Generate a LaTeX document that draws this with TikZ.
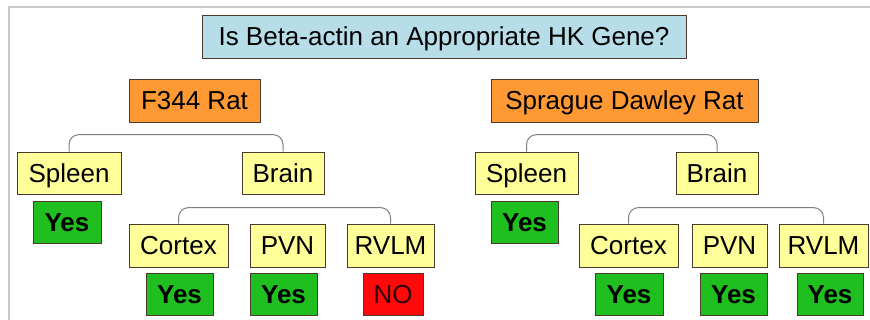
\documentclass[tikz,border=0pt]{standalone}
\usepackage{fontspec}
\setmainfont{Liberation Sans}
\definecolor{tblue}{HTML}{B7DDE8}
\definecolor{torange}{HTML}{FF9933}
\definecolor{tyellow}{HTML}{FFFF99}
\definecolor{tgreen}{HTML}{1FBF1F}
\definecolor{tred}{HTML}{FF0A0A}
\definecolor{tedge}{HTML}{4A3A30}
\definecolor{tframe}{HTML}{C8C8C8}
\definecolor{tbrk}{HTML}{7F7F7F}
\begin{document}
\begin{tikzpicture}[x=1pt,y=-1pt,
  box/.style={draw=tedge,line width=0.8pt,inner sep=0pt,minimum height=43,
    text height=18.6pt,text depth=0pt,
    font=\fontsize{26}{30}\selectfont,text=black},
  titlebox/.style={box,fill=tblue},
  ratbox/.style={box,fill=torange},
  tissue/.style={box,fill=tyellow},
  yesbox/.style={box,fill=tgreen,minimum height=42,font=\fontsize{26}{30}\selectfont\bfseries},
  nobox/.style={box,fill=tred,minimum height=42,text=black!80!red},
  brk/.style={draw=tbrk,line width=1pt,rounded corners=10pt}]
\useasboundingbox (0,0) rectangle (870,320);
\fill[white] (0,0) rectangle (870,320);
\draw[tframe,line width=1.5pt] (9,320) -- (9,7) -- (870,7);

\node[titlebox,minimum width=484] (title) at (444,36.5) {Is Beta-actin an Appropriate HK Gene?};

% F344 side
\node[ratbox,minimum width=131] (f344) at (194.5,100.5) {F344 Rat};
\node[tissue,minimum width=104,minimum height=42] (spl1) at (69,173) {Spleen};
\node[tissue,minimum width=82,minimum height=42] (brn1) at (283,173) {Brain};
\node[yesbox,minimum width=68] (ys1) at (67,222) {Yes};
\node[tissue,minimum width=99] (cor1) at (178.5,245.5) {Cortex};
\node[tissue,minimum width=75] (pvn1) at (287.5,245.5) {PVN};
\node[tissue,minimum width=87] (rvl1) at (390.5,245.5) {RVLM};
\node[yesbox,minimum width=67] (yc1) at (179.5,294) {Yes};
\node[yesbox,minimum width=67] (yp1) at (283.5,294) {Yes};
\node[nobox,minimum width=60] (nr1) at (393,294) {NO};
\draw[brk] (spl1.north) -- ++(0,-17) -| (brn1.north);
\draw[brk] (cor1.north) -- ++(0,-16) -| (rvl1.north);

% Sprague Dawley side
\node[ratbox,minimum width=267] (sd) at (624.5,100.5) {Sprague Dawley Rat};
\node[tissue,minimum width=103,minimum height=42] (spl2) at (526.5,173) {Spleen};
\node[tissue,minimum width=82,minimum height=42] (brn2) at (717,173) {Brain};
\node[yesbox,minimum width=67] (ys2) at (524.5,222) {Yes};
\node[tissue,minimum width=99] (cor2) at (628.5,245.5) {Cortex};
\node[tissue,minimum width=75] (pvn2) at (729.5,245.5) {PVN};
\node[tissue,minimum width=89] (rvl2) at (823.5,245.5) {RVLM};
\node[yesbox,minimum width=68] (yc2) at (629,294) {Yes};
\node[yesbox,minimum width=67] (yp2) at (733.5,294) {Yes};
\node[yesbox,minimum width=66] (yr2) at (830,294) {Yes};
\draw[brk] (spl2.north) -- ++(0,-17) -| (brn2.north);
\draw[brk] (cor2.north) -- ++(0,-16) -| (rvl2.north);
\end{tikzpicture}
\end{document}
